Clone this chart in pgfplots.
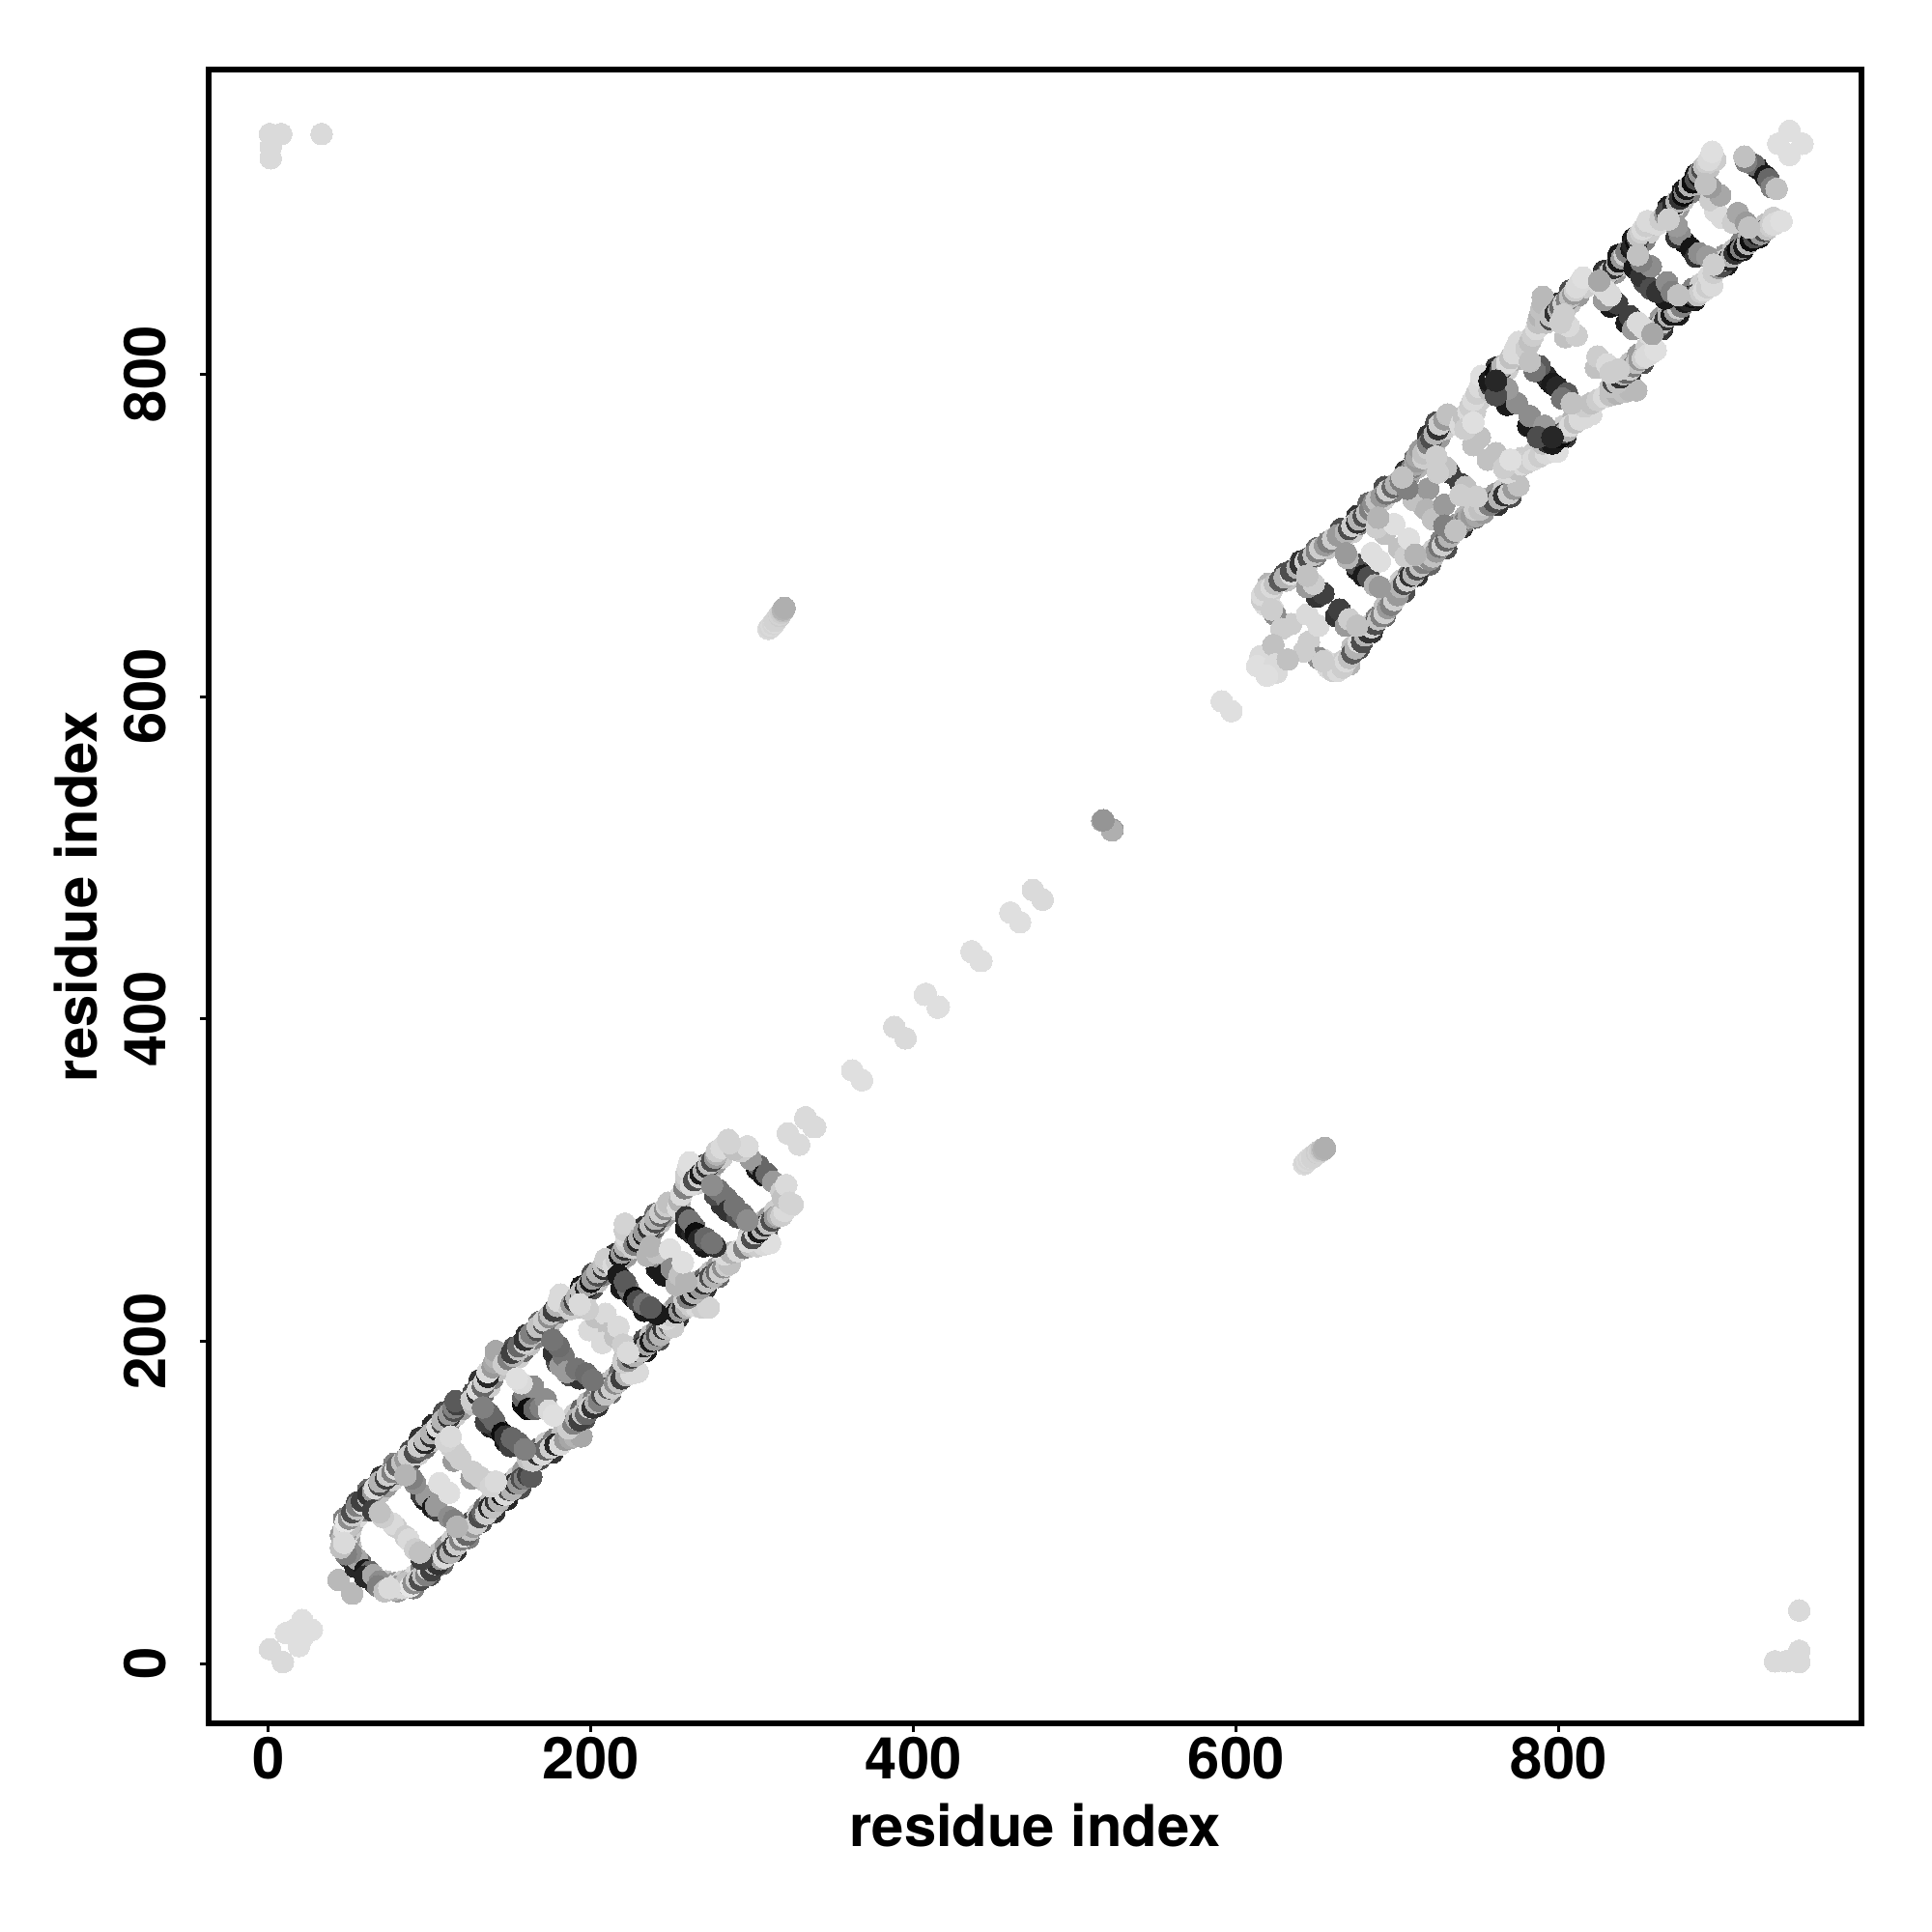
\documentclass[border=0pt]{standalone}
\usepackage{fontspec}
\setmainfont{TeX Gyre Heros}
\usepackage{pgfplots}
\usepackage{pgfplotstable}
\pgfplotsset{compat=1.18}
\pgfplotstableread{
x y g
80 45 .6
90 47 .5
100 55 .3
108 62 .4
116 70 .2
124 78 .5
132 88 .3
140 94 .2
148 102 .15
156 109 .3
168 127 .3
176 131 .2
196 152 .3
204 160 .2
212 168 .4
226 187 .2
234 194 .1
242 201 .3
254 215 .2
263 226 .3
271 233 .2
279 240 .4
301 261 .4
309 269 .3
73 51 .75
78 50 .6
83 51 .8
87 52 .7
91 55 .85
95 59 .5
98 62 .8
102 66 .4
106 69 .75
110 73 .6
114 77 .8
118 81 .5
122 84 .75
126 88 .3
130 93 .8
134 97 .4
138 101 .75
142 105 .3
146 109 .7
150 112 .5
154 116 .8
158 120 .6
162 130 .8
167 133 .4
172 137 .8
177 139 .5
182 142 .75
186 150 .6
190 155 .8
194 158 .4
198 162 .75
202 165 .5
206 170 .8
210 174 .6
214 177 .75
218 181 .4
221 191 .75
225 194 .5
229 197 .8
233 201 .3
237 204 .75
241 207 .5
245 211 .8
249 218 .75
253 222 .6
258 230 .8
262 233 .5
266 237 .7
270 239 .4
274 243 .75
278 246 .6
282 250 .8
298 266 .8
302 270 .5
306 274 .75
310 277 .6
314 281 .8
9 1 .85
19 11 .87
19 17 .87
21 16 .87
27 21 .87
52 43.5 .72
60 58 .1
63 53 .3
66 50 .2
70 47 .5
70 47 .8
73 46 .75
76 48 .85
78 46 .7
81 48 .6
83 47 .85
85 50 .75
88 48 .9
90 50 .55
92 52 .8
94 52 .3
96 55 .75
98 55 .5
99 59 .85
101 58 .25
103 62 .7
105 62 .2
107 65 .6
109 66 .85
111 69 .3
113 69 .7
115 73 .25
117 74 .8
119 77 .5
121 79 .85
123 80 .4
125 83 .75
127 85 .6
129 87 .8
131 91 .3
133 94 .4
135 93 .8
137 97 .15
139 97 .75
141 101 .2
143 101 .7
145 105 .1
147 105 .85
149 108 .3
151 108 .7
153 112 .2
155 112 .6
157 115 .3
159 115 .5
161 117 .25
163 116 .35
161 127 .75
164 126 .8
167 130 .2
170 130 .85
172 133 .4
175 134 .8
178 136 .15
181 136 .85
184 139 .6
187 140 .65
190 141 .7
194 141 .65
186 146 .8
189 149 .5
191 152 .7
193 151 .25
195 155 .75
197 155 .4
199 159 .8
201 159 .2
203 162 .7
205 163 .5
207 167 .3
209 167 .75
211 171 .35
213 171 .8
215 174 .55
217 175 .75
219 177 .25
222 179 .7
225 180 .85
229 181 .85
220 187 .8
223 188 .6
225 190 .25
227 191 .7
229 194 .2
231 194 .75
233 197 .15
235 198 .65
237 200 .1
239 201 .6
241 204 .3
243 204 .7
245 208 .2
247 208 .75
249 210 .4
251 209 .8
247 214 .85
250 216 .8
253 218 .1
255 219 .6
257 221 .2
259 221 .7
262 222 .8
265 222 .85
269 221 .8
273 221 .82
258 226 .8
260 227 .5
262 229 .15
264 230 .7
266 233 .1
268 233 .6
270 236 .2
272 237 .75
274 240 .3
276 240 .7
278 243 .4
280 243 .8
282 246 .55
284 247 .8
286 248 .75
283 254 .85
287 255 .7
291 256 .85
295 258 .5
299 259 .75
303 259 .8
307 260 .85
311 261 .87
297 262 .85
300 264 .3
302 267 .8
304 268 .1
306 270 .7
308 272 .2
310 273 .75
312 275 .3
314 277 .6
316 278 .7
318 278 .8
320 281 .85
322 283 .85
325 285 .82
63 57 .4
60 54 .15
65 55 .65
69 51 .55
68 48 .5
72 45 .75
75 47 .85
95 65 .25
85 79 .8
87 77 .85
91 71 .8
94 69 .75
102 97 .1
105 95 .25
104 98 .6
112 91 .55
115 89 .5
117 85 .7
112 106 .87
126 115 .6
127 119 .8
131 116 .8
135 113 .8
138 110 .82
141 113 .85
145 143 .05
147 138 .1
147 141 .2
150 135 .25
151 140 .4
155 137 .4
159 133 .5
161 158 .05
165 158 .4
169 159 .5
172 164 .55
174 157 .85
177 154 .87
187 179 .3
193 177 .2
185 181 .6
191 183 .45
197 180 .42
201 176 .45
211 205 .75
207 199 .85
215 203 .75
217 209 .85
220 198 .8
223 193 .85
227 227 .05
233 219 .1
241 217 .1
229 225 .3
233 223 .45
237 221 .35
245 241 .1
250 245 .55
253 235 .7
255 241 .75
259 237 .7
257 249 .87
265 267 .05
270 259 .1
267 263 .15
277 259 .2
271 264 .4
275 261 .45
285 281 .2
291 277 .3
289 284 .45
294 279 .45
297 275 .55
307 303 .1
309 304 .4
313 299 .6
318 293 .8
319 289 .75
321 297 .85
323 286 .82
322 329 .85
329 322 .85
333 339 .85
338 333 .85
368 362 .87
362 368 .87
395 388 .85
388 395 .85
415 407 .87
407.6 415.6 .87
442 436 .87
436 441.5 .87
466 460 .87
460 466 .87
480 474 .85
474 480 .85
523 517 .68
517.6 523.3 .58
597 591 .87
591 597 .87
642 310 .85
643 311 .83
644 312 .85
645 313 .83
646 314 .85
647 314 .82
648 315 .82
649 316 .82
650 317 .8
651 317 .82
652 318 .8
653 319 .75
654 319 .7
655 320 .68
625 615 .85
624 620 .85
619 613 .87
670 620 .7
676 630 .3
684 640 .2
692 650 .4
704 665 .3
712 675 .2
720 682 .4
730 692 .3
740 705 .2
748 711 .4
762 719 .2
770 724 .3
797 754 .1
804 761 .2
836 792 .3
844 800 .2
852 807 .3
864 828 .2
874 837 .1
884 846 .1
904 868 .1
914 877 .1
924 885 .1
660 620 .85
666 622 .8
672 631 .75
677 638 .6
682 644 .8
687 649 .5
692 656 .75
697 661 .6
702 672 .8
707 676 .5
712 683 .75
717 687 .6
722 691 .8
727 697 .5
732 703 .75
737 707 .6
742 712 .7
750 720 .8
756 723 .7
761 726 .6
766 729 .8
771 733 .6
770 744 .85
777 748 .8
784 751 .8
792 761 .75
798 764 .6
803 768 .8
809 773 .7
815 777 .85
834 797 .8
839 802 .6
844 807 .75
849 812 .6
854 816 .8
858 829 .8
863 835 .6
868 840 .75
873 844 .5
878 849 .7
883 853 .5
888 856 .8
893 859 .75
898 868 .8
903 874 .6
908 877 .75
913 882 .5
918 886 .7
923 890 .5
928 893 .75
933 897 .8
654 623 .85
657 618 .85
660 616 .8
663 616 .85
666 618 .8
668 622 .85
670 624 .75
672 627 .35
674 630 .7
676 634 .85
678 634 .3
680 638 .7
682 640 .2
684 643 .8
686 645 .3
688 648 .75
690 650 .5
692 652 .8
694 655 .6
696 657 .5
698 660 .8
700 663 .6
702 668 .7
704 670 .3
706 672 .8
708 675 .2
710 676 .7
712 679 .3
714 681 .75
716 683 .5
718 686 .8
720 685 .55
722 687 .75
724 690 .6
726 693 .45
728 694 .8
730 697 .4
732 699 .7
734 702 .5
736 703 .8
738 706 .35
740 708 .65
742 709 .5
744 711 .65
746 712 .6
749 712 .65
753 714 .6
748 716 .8
751 716 .75
754 719 .8
757 719 .5
760 721 .3
763 723 .7
766 725 .2
769 726 .8
772 729 .6
775 731 .75
768 739 .85
771 740 .85
774 741 .75
777 744 .85
780 745 .8
784 747 .85
788 749 .8
792 751 .85
795 752 .85
799 752 .87
790 757 .75
793 758 .2
796 757 .1
799 761 .8
801 761 .05
803 764 .3
805 765 .7
807 768 .85
810 770 .75
813 772 .85
816 773 .85
820 775 .85
812 778 .85
816 780 .8
820 782 .75
824 784 .8
828 786 .85
832 787 .75
836 788 .7
840 789 .75
844 790 .72
848 790 .72
832 792 .75
834 795 .3
836 795 .75
838 798 .2
840 800 .7
842 801 .4
844 803 .8
846 805 .5
848 807 .75
850 809 .6
852 810 .8
854 811 .85
857 813 .85
860 815 .87
856 825 .85
858 826 .8
860 829 .6
862 830 .4
864 832 .75
866 834 .2
868 836 .7
870 837 .1
872 839 .6
874 841 .8
876 842 .5
878 845 .1
880 846 .15
882 848 .05
884 849 .3
886 849 .75
888 851 .8
890 852 .85
892 854 .8
895 855 .85
893 861 .85
896 863 .8
899 866 .6
901 867 .3
903 871 .8
905 871 .15
907 873 .7
909 875 .2
911 877 .05
913 878 .5
915 879 .1
917 881 .7
919 883 .05
921 885 .3
923 887 .1
925 887 .6
927 889 .3
929 890 .75
931 892 .8
933 893 .85
935 894 .85
938 895 .87
645 634 .8
651 624 .55
654 622 .8
642 628 .8
632 623 .75
651 644 .85
662 650 .2
664 654 .25
668 644 .6
670 648 .8
675 644 .75
679 675 .1
682 674 .3
686 669 .7
689 668 .6
689 684 .87
701 692 .75
705 687 .8
707 698 .87
711 688 .7
718 716 .7
722 710 .75
729 719 .6
729 706 .5
736 703 .75
739 732 .25
742 730 .75
739 725 .8
749 724 .8
756 747 .75
761 751 .75
766 742 .8
770 747 .87
781 768 .1
782 774 .55
791 768 .6
787 761 .3
796 761 .15
796 794 .1
799 792 .15
805 788 .35
802 785 .45
808 782 .75
823 804 .75
824 811 .8
830 806 .85
832 801 .8
837 803 .8
842 832 .1
844 836 .25
846 828 .6
849 832 .85
852 829 .85
858 825 .65
857 853 .3
866 847 .1
861 851 .2
867 857 .55
870 851 .5
874 849 .75
882 878 .08
885 873 .2
887 875 .55
892 873 .6
896 868 .8
901 897 .85
908 894 .8
911 900 .65
916 894 .6
918 891 .75
928 923 .1
930 921 .4
932 916 .5
935 915 .75
943 936 .87
951 943 .87
934 1.5 .85
941 1.5 .85
949 1 .85
949 8 .85
949 33 .85
}\contacts
\begin{document}
\begin{tikzpicture}
\useasboundingbox (-21.6mm,-21.6mm) rectangle (178.4mm,178.4mm);
\begin{axis}[
  at={(0mm,0mm)}, anchor=south west,
  scale only axis, width=171.1mm, height=171.2mm,
  xmin=-37, xmax=987.6, ymin=-37, ymax=989,
  axis line style={line width=1.6pt},
  tick style={line width=0.8pt,black},
  major tick length=0.9mm,
  tick align=outside,
  xtick pos=bottom, ytick pos=left,
  xtick={0,200,400,600,800}, ytick={0,200,400,600,800},
  /pgf/number format/assume math mode=true,
  tick label style={font=\bfseries\fontsize{17}{20}\selectfont},
  yticklabel style={rotate=90,anchor=south,inner sep=0pt,yshift=3.4mm},
  xticklabel style={anchor=north,inner sep=0pt,yshift=-0.5mm},
  xlabel={residue index}, ylabel={residue index},
  label style={font=\bfseries\fontsize{17}{20}\selectfont},
  xlabel style={at={(axis description cs:0.5,-0.0615)},anchor=center},
  ylabel style={at={(axis description cs:-0.0805,0.5)},rotate=0,anchor=center},
  colormap={grays}{gray(0cm)=(0); gray(1cm)=(1)},
  point meta min=0, point meta max=1,
  scatter/use mapped color={draw=mapped color,fill=mapped color},
]
\addplot[scatter,only marks,mark=*,mark size=3.2pt,line width=0pt,point meta=explicit]
  table[x=y,y=x,meta=g]{\contacts};
\addplot[scatter,only marks,mark=*,mark size=3.2pt,line width=0pt,point meta=explicit]
  table[x=x,y=y,meta=g]{\contacts};
\end{axis}
\end{tikzpicture}
\end{document}
